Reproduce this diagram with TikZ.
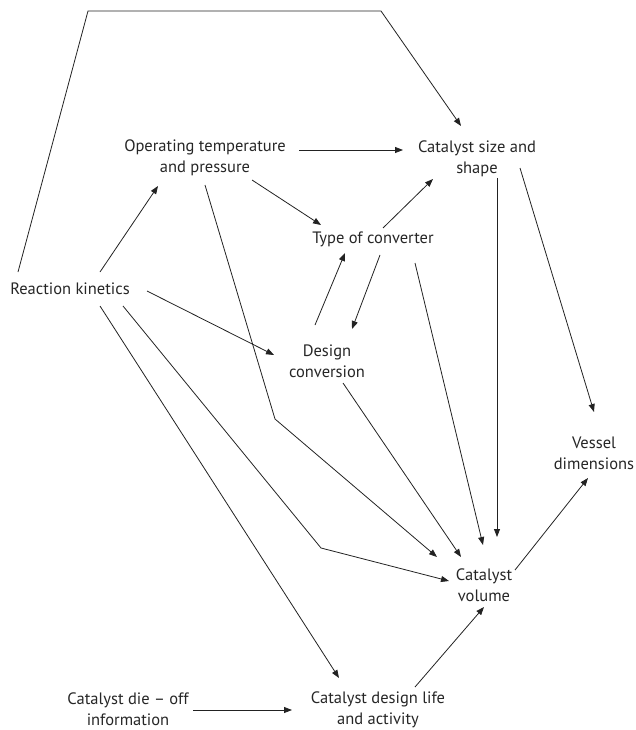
\documentclass[tikz,border=0pt]{standalone}
\usepackage{fontspec}
\setmainfont{PT Sans}
\usetikzlibrary{arrows.meta}
\definecolor{txtc}{HTML}{262626}
\definecolor{linec}{HTML}{222222}
\begin{document}
\begin{tikzpicture}[x=1pt,y=-1pt,
  lbl/.style={align=center, inner sep=0pt, text=txtc, font=\fontsize{16.5}{21}\selectfont},
  conn/.style={draw=linec, line width=0.8pt},
  arr/.style={conn, -{Triangle[length=8pt,width=6pt]}}]
\useasboundingbox (0,0) rectangle (636,730);
% text nodes
\node[lbl] (op)   at (205,157.5) {Operating temperature\\and pressure};
\node[lbl] (size) at (477,158.5) {Catalyst size and\\shape};
\node[lbl] (type) at (373,239) {Type of converter};
\node[lbl] (rk)   at (70,289) {Reaction kinetics};
\node[lbl] (dc)   at (327,361.5) {Design\\conversion};
\node[lbl] (ves)  at (594,453) {Vessel\\dimensions};
\node[lbl] (vol)  at (484,585) {Catalyst\\volume};
\node[lbl] (die)  at (128,709.5) {Catalyst die – off\\information};
\node[lbl] (life) at (378,710) {Catalyst design life\\and activity};
% connector end points
\coordinate (rk1) at (18,272);   \coordinate (k1) at (88,11);
\coordinate (k2) at (381,11);    \coordinate (size1) at (461,126);
\coordinate (op1) at (299,150);  \coordinate (size2) at (403,150);
\coordinate (rk2) at (100,272);  \coordinate (op2) at (158,186);
\coordinate (op3) at (252,180);  \coordinate (type1) at (321,225);
\coordinate (op4) at (205,185);  \coordinate (k3) at (275,419);
\coordinate (vol1) at (437,557);
\coordinate (type2) at (383,228); \coordinate (size3) at (433,179);
\coordinate (size4) at (497,178); \coordinate (vol2) at (497,537);
\coordinate (size5) at (520,168); \coordinate (ves1) at (594,412);
\coordinate (type3) at (415,263); \coordinate (vol3) at (483,545);
\coordinate (type4) at (380,255); \coordinate (dc1) at (352,329);
\coordinate (dc2) at (315,325);   \coordinate (type5) at (345,253);
\coordinate (rk3) at (147,291);   \coordinate (dc3) at (274,355);
\coordinate (dc4) at (343,383);   \coordinate (vol4) at (461,557);
\coordinate (rk4) at (123,306);   \coordinate (k4) at (321,548);
\coordinate (vol5) at (449,581);
\coordinate (rk5) at (100,306);   \coordinate (life1) at (339,678);
\coordinate (die1) at (193,710);  \coordinate (life2) at (292,710);
\coordinate (life3) at (415,687); \coordinate (vol6) at (484,607);
\coordinate (vol7) at (515,570);  \coordinate (ves2) at (588,478);
% connectors
\draw[arr] (rk1) -- (k1) -- (k2) -- (size1);
\draw[arr] (op1) -- (size2);
\draw[arr] (rk2) -- (op2);
\draw[arr] (op3) -- (type1);
\draw[arr] (op4) -- (k3) -- (vol1);
\draw[arr] (type2) -- (size3);
\draw[arr] (size4) -- (vol2);
\draw[arr] (size5) -- (ves1);
\draw[arr] (type3) -- (vol3);
\draw[arr] (type4) -- (dc1);
\draw[arr] (dc2) -- (type5);
\draw[arr] (rk3) -- (dc3);
\draw[arr] (dc4) -- (vol4);
\draw[arr] (rk4) -- (k4) -- (vol5);
\draw[arr] (rk5) -- (life1);
\draw[arr] (die1) -- (life2);
\draw[arr] (life3) -- (vol6);
\draw[arr] (vol7) -- (ves2);
\end{tikzpicture}
\end{document}
